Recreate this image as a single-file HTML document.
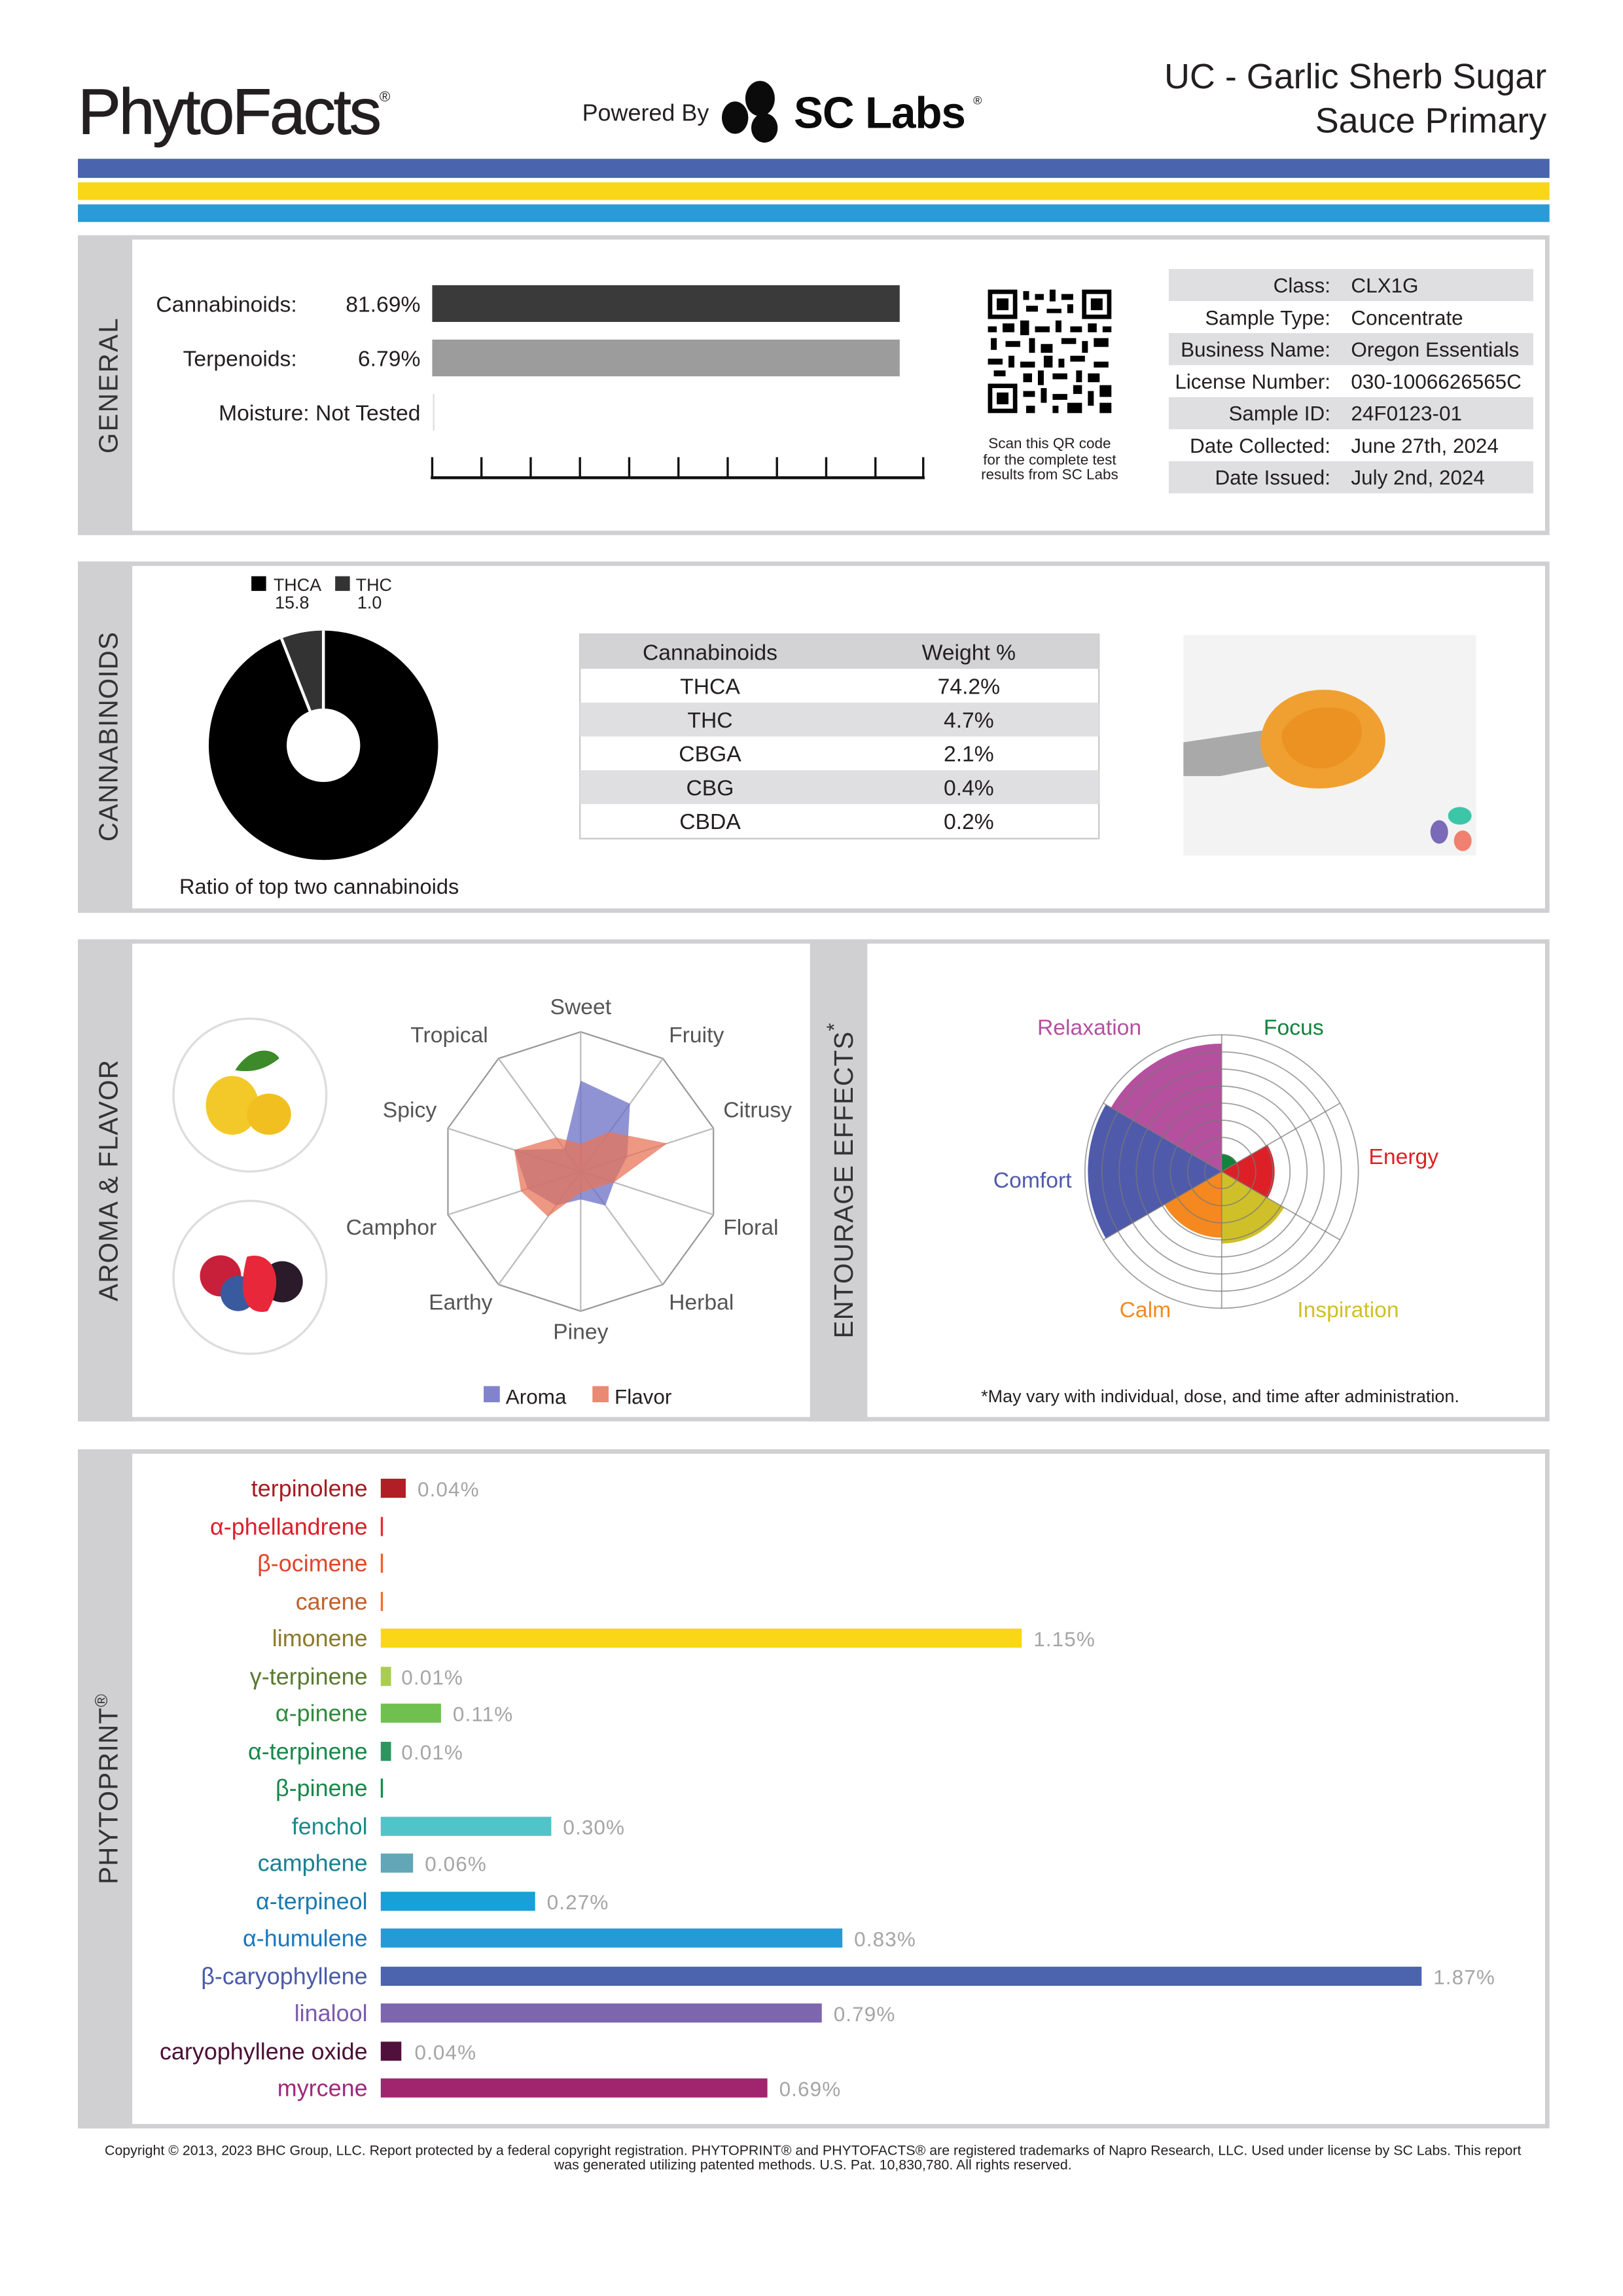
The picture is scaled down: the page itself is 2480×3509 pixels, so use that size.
<!DOCTYPE html>
<html><head><meta charset="utf-8"><style>
html,body{margin:0;padding:0;background:#fff}
svg{display:block}
text{font-family:"Liberation Sans",sans-serif}
</style></head><body>
<svg width="2480" height="3509" viewBox="0 0 1104 1562" xmlns="http://www.w3.org/2000/svg">
<rect width="1104" height="1562" fill="#fff"/>
<!-- Header -->
<text x="53" y="91" font-size="44" fill="#231f20" letter-spacing="-1.5" stroke="#231f20" stroke-width="0.4">PhytoFacts<tspan font-size="10" dy="-22" stroke-width="0">®</tspan></text>
<text x="396" y="82" font-size="16" fill="#231f20">Powered By</text>
<ellipse cx="517" cy="67" rx="10" ry="12" fill="#0b0b0b"/>
<ellipse cx="500" cy="80" rx="9" ry="11" fill="#0b0b0b"/>
<ellipse cx="520" cy="87" rx="9" ry="10" fill="#0b0b0b"/>
<text x="540" y="87" font-size="30" font-weight="bold" fill="#0b0b0b" letter-spacing="-0.5">SC Labs</text>
<text x="662" y="71" font-size="8" fill="#0b0b0b">®</text>
<text x="1052" y="60" font-size="24" fill="#231f20" text-anchor="end">UC - Garlic Sherb Sugar</text>
<text x="1052" y="90" font-size="24" fill="#231f20" text-anchor="end">Sauce Primary</text>
<rect x="53" y="108" width="1001" height="13" fill="#4a64ad"/>
<rect x="53" y="124" width="1001" height="12" fill="#f9d616"/>
<rect x="53" y="139" width="1001" height="12" fill="#2a9bd6"/>

<!-- GENERAL panel -->
<rect x="54.5" y="161.5" width="998" height="201" fill="#fff" stroke="#d0d0d2" stroke-width="3"/>
<rect x="53" y="160" width="37" height="204" fill="#d0d0d2"/>
<text transform="translate(80,262) rotate(-90)" font-size="18" fill="#333" text-anchor="middle" letter-spacing="1">GENERAL</text>
<text x="202" y="212" font-size="15" fill="#231f20" text-anchor="end">Cannabinoids:</text>
<text x="286" y="212" font-size="15" fill="#231f20" text-anchor="end">81.69%</text>
<rect x="294" y="194" width="318" height="25" fill="#3a3a3a"/>
<text x="202" y="249" font-size="15" fill="#231f20" text-anchor="end">Terpenoids:</text>
<text x="286" y="249" font-size="15" fill="#231f20" text-anchor="end">6.79%</text>
<rect x="294" y="231" width="318" height="25" fill="#9c9c9c"/>
<text x="286" y="286" font-size="15" fill="#231f20" text-anchor="end">Moisture:  Not Tested</text>
<line x1="295" y1="268" x2="295" y2="293" stroke="#ddd" stroke-width="1"/>
<g stroke="#111" stroke-width="1.5">
<line x1="293" y1="325" x2="629" y2="325" stroke-width="2"/>
<line x1="294" y1="311" x2="294" y2="325"/><line x1="327.5" y1="311" x2="327.5" y2="325"/><line x1="361" y1="311" x2="361" y2="325"/><line x1="394.5" y1="311" x2="394.5" y2="325"/><line x1="428" y1="311" x2="428" y2="325"/><line x1="461.5" y1="311" x2="461.5" y2="325"/><line x1="495" y1="311" x2="495" y2="325"/><line x1="528.5" y1="311" x2="528.5" y2="325"/><line x1="562" y1="311" x2="562" y2="325"/><line x1="595.5" y1="311" x2="595.5" y2="325"/><line x1="628" y1="311" x2="628" y2="325"/>
</g>
<!-- QR -->
<g fill="#000">
<rect x="672" y="197" width="84" height="84" fill="#fff"/>
<rect x="672" y="197" width="20" height="20"/><rect x="675" y="200" width="14" height="14" fill="#fff"/><rect x="678" y="203" width="8" height="8"/>
<rect x="736" y="197" width="20" height="20"/><rect x="739" y="200" width="14" height="14" fill="#fff"/><rect x="742" y="203" width="8" height="8"/>
<rect x="672" y="261" width="20" height="20"/><rect x="675" y="264" width="14" height="14" fill="#fff"/><rect x="678" y="267" width="8" height="8"/>
<rect x="696" y="198" width="4" height="6"/><rect x="704" y="200" width="6" height="4"/><rect x="714" y="197" width="4" height="8"/><rect x="722" y="200" width="8" height="4"/>
<rect x="698" y="208" width="8" height="4"/><rect x="712" y="210" width="10" height="3"/><rect x="726" y="207" width="4" height="6"/>
<rect x="672" y="222" width="6" height="4"/><rect x="682" y="220" width="8" height="6"/><rect x="694" y="218" width="6" height="10"/><rect x="704" y="222" width="10" height="4"/><rect x="718" y="218" width="4" height="8"/><rect x="728" y="222" width="8" height="4"/><rect x="740" y="220" width="6" height="6"/><rect x="750" y="222" width="6" height="4"/>
<rect x="674" y="230" width="4" height="8"/><rect x="684" y="232" width="10" height="4"/><rect x="700" y="230" width="4" height="10"/><rect x="708" y="234" width="8" height="6"/><rect x="722" y="230" width="10" height="4"/><rect x="736" y="232" width="4" height="8"/><rect x="744" y="230" width="10" height="6"/>
<rect x="672" y="244" width="10" height="4"/><rect x="686" y="242" width="4" height="8"/><rect x="694" y="246" width="10" height="4"/><rect x="710" y="242" width="6" height="8"/><rect x="720" y="244" width="4" height="6"/><rect x="728" y="242" width="10" height="4"/><rect x="744" y="246" width="10" height="4"/>
<rect x="676" y="252" width="8" height="4"/><rect x="696" y="254" width="6" height="6"/><rect x="706" y="252" width="4" height="10"/><rect x="716" y="254" width="10" height="4"/><rect x="732" y="252" width="4" height="8"/><rect x="740" y="254" width="8" height="6"/>
<rect x="696" y="266" width="8" height="4"/><rect x="708" y="264" width="4" height="10"/><rect x="716" y="268" width="10" height="4"/><rect x="730" y="262" width="6" height="6"/><rect x="740" y="266" width="4" height="10"/><rect x="748" y="262" width="8" height="8"/>
<rect x="698" y="276" width="6" height="5"/><rect x="716" y="276" width="4" height="5"/><rect x="726" y="274" width="10" height="7"/><rect x="748" y="274" width="8" height="7"/>
</g>
<text x="714" y="305" font-size="10" fill="#231f20" text-anchor="middle">Scan this QR code</text>
<text x="714" y="316" font-size="10" fill="#231f20" text-anchor="middle">for the complete test</text>
<text x="714" y="326" font-size="10" fill="#231f20" text-anchor="middle">results from SC Labs</text>
<!-- info table -->
<rect x="795" y="183" width="248" height="21.8" fill="#dfdfe1"/>
<rect x="795" y="226.6" width="248" height="21.8" fill="#dfdfe1"/>
<rect x="795" y="270.2" width="248" height="21.8" fill="#dfdfe1"/>
<rect x="795" y="313.8" width="248" height="21.8" fill="#dfdfe1"/>
<g font-size="14" fill="#231f20">
<text x="905" y="199" text-anchor="end">Class:</text><text x="919" y="199">CLX1G</text>
<text x="905" y="221" text-anchor="end">Sample Type:</text><text x="919" y="221">Concentrate</text>
<text x="905" y="242.5" text-anchor="end">Business Name:</text><text x="919" y="242.5">Oregon Essentials</text>
<text x="905" y="264.5" text-anchor="end">License Number:</text><text x="919" y="264.5">030-1006626565C</text>
<text x="905" y="286" text-anchor="end">Sample ID:</text><text x="919" y="286">24F0123-01</text>
<text x="905" y="308" text-anchor="end">Date Collected:</text><text x="919" y="308">June 27th, 2024</text>
<text x="905" y="329.5" text-anchor="end">Date Issued:</text><text x="919" y="329.5">July 2nd, 2024</text>
</g>

<!-- CANNABINOIDS panel -->
<rect x="54.5" y="383.5" width="998" height="236" fill="#fff" stroke="#d0d0d2" stroke-width="3"/>
<rect x="53" y="382" width="37" height="239" fill="#d0d0d2"/>
<text transform="translate(80,501) rotate(-90)" font-size="18" fill="#333" text-anchor="middle" letter-spacing="0.5">CANNABINOIDS</text>
<rect x="171" y="392" width="10" height="10" fill="#000"/>
<text x="186" y="402" font-size="12" fill="#231f20">THCA</text>
<text x="187" y="414" font-size="12" fill="#231f20">15.8</text>
<rect x="228" y="392" width="10" height="10" fill="#333"/>
<text x="242" y="402" font-size="12" fill="#231f20">THC</text>
<text x="243" y="414" font-size="12" fill="#231f20">1.0</text>
<circle cx="220" cy="507" r="78" fill="#000"/>
<path d="M220,507 L220,429 A78,78 0 0 0 191.5,434.4 Z" fill="#333"/>
<line x1="220" y1="507" x2="220" y2="429" stroke="#fff" stroke-width="2"/>
<line x1="220" y1="507" x2="191.5" y2="434.4" stroke="#fff" stroke-width="2"/>
<circle cx="220" cy="507" r="25" fill="#fff"/>
<text x="122" y="608" font-size="14.5" fill="#231f20">Ratio of top two cannabinoids</text>
<!-- table -->
<rect x="394.5" y="431.5" width="353" height="139" fill="#fff" stroke="#c8c8ca" stroke-width="1"/>
<rect x="394.5" y="431.5" width="353" height="23.5" fill="#d3d3d5"/>
<rect x="394.5" y="478" width="353" height="23" fill="#dfdfe1"/>
<rect x="394.5" y="524" width="353" height="23" fill="#dfdfe1"/>
<g font-size="15" fill="#231f20" text-anchor="middle">
<text x="483" y="449" font-weight="500">Cannabinoids</text><text x="659" y="449">Weight %</text>
<text x="483" y="472">THCA</text><text x="659" y="472">74.2%</text>
<text x="483" y="495">THC</text><text x="659" y="495">4.7%</text>
<text x="483" y="518">CBGA</text><text x="659" y="518">2.1%</text>
<text x="483" y="541">CBG</text><text x="659" y="541">0.4%</text>
<text x="483" y="564">CBDA</text><text x="659" y="564">0.2%</text>
</g>
<!-- photo -->
<rect x="805" y="432" width="199" height="150" fill="#f3f3f3"/>
<path d="M805,505 L865,496 L870,520 L830,528 L805,528 Z" fill="#a9a9a9"/>
<path d="M858,500 C862,478 885,466 910,470 C935,476 948,495 940,515 C930,535 900,540 880,534 C865,528 855,515 858,500 Z" fill="#f0a030"/>
<path d="M872,498 C880,482 905,476 922,486 C932,498 924,516 905,522 C888,526 870,514 872,498 Z" fill="#e8891a" opacity="0.6"/>
<ellipse cx="993" cy="555" rx="8" ry="6" fill="#3cc6a8"/>
<ellipse cx="979" cy="566" rx="6" ry="8" fill="#7a6ab8"/>
<ellipse cx="995" cy="572" rx="6" ry="7" fill="#f08070"/>

<!-- AROMA panel -->
<rect x="54.5" y="640.5" width="998" height="325" fill="#fff" stroke="#d0d0d2" stroke-width="3"/>
<rect x="53" y="639" width="37" height="328" fill="#d0d0d2"/>
<rect x="551" y="639" width="39" height="328" fill="#d0d0d2"/>
<text transform="translate(80,803) rotate(-90)" font-size="18" fill="#333" text-anchor="middle" letter-spacing="0.5">AROMA &amp; FLAVOR</text>
<text transform="translate(580,803) rotate(-90)" font-size="18" fill="#333" text-anchor="middle" letter-spacing="0.5">ENTOURAGE EFFECTS<tspan dy="-8" font-size="14">*</tspan></text>
<circle cx="170" cy="745" r="52" fill="#fff" stroke="#ddd" stroke-width="1.5"/>
<ellipse cx="158" cy="752" rx="18" ry="20" fill="#f3c92a"/>
<ellipse cx="183" cy="758" rx="15" ry="14" fill="#f1c020"/>
<path d="M160,728 C170,712 185,712 190,720 C180,728 170,730 160,728 Z" fill="#3d8a2a"/>
<circle cx="170" cy="869" r="52" fill="#fff" stroke="#ddd" stroke-width="1.5"/>
<circle cx="150" cy="868" r="14" fill="#c8203a"/>
<circle cx="192" cy="872" r="14" fill="#2a1a2a"/>
<circle cx="162" cy="880" r="12" fill="#3a5aa0"/>
<path d="M168,855 C185,850 195,870 182,892 C170,895 160,885 168,855 Z" fill="#e8283a"/>
<!-- radar -->
<g stroke="#bbb" stroke-width="1" fill="none">
<polygon points="395,702 450.9,720.1 485.3,767.6 485.3,826.4 450.9,873.9 395,892 339.1,873.9 304.7,826.4 304.7,767.6 339.1,720.1" stroke="#999"/>
<line x1="395" y1="797" x2="395" y2="702"/><line x1="395" y1="797" x2="450.9" y2="720.1"/><line x1="395" y1="797" x2="485.3" y2="767.6"/><line x1="395" y1="797" x2="485.3" y2="826.4"/><line x1="395" y1="797" x2="450.9" y2="873.9"/><line x1="395" y1="797" x2="395" y2="892"/><line x1="395" y1="797" x2="339.1" y2="873.9"/><line x1="395" y1="797" x2="304.7" y2="826.4"/><line x1="395" y1="797" x2="304.7" y2="767.6"/><line x1="395" y1="797" x2="339.1" y2="720.1"/>
</g>
<polygon points="395,735.2 428.5,750.9 426.6,786.7 417.6,804.4 411.8,820.1 395,816 378.2,820.1 358.9,808.7 349.8,782.3 383.8,781.6" fill="#6b6fc4" fill-opacity="0.75"/>
<polygon points="395,778 414.6,770.1 453.8,777.9 417.6,804.4 403.4,808.6 395,811.3 372.7,827.7 354.3,810.2 349.8,782.3 378.2,773.9" fill="#e8745a" fill-opacity="0.75"/>
<g font-size="15" fill="#555">
<text x="395" y="690" text-anchor="middle">Sweet</text>
<text x="455" y="709">Fruity</text>
<text x="492" y="760">Citrusy</text>
<text x="492" y="840">Floral</text>
<text x="455" y="891">Herbal</text>
<text x="395" y="911" text-anchor="middle">Piney</text>
<text x="335" y="891" text-anchor="end">Earthy</text>
<text x="297" y="840" text-anchor="end">Camphor</text>
<text x="297" y="760" text-anchor="end">Spicy</text>
<text x="332" y="709" text-anchor="end">Tropical</text>
</g>
<rect x="329" y="943" width="11" height="11" fill="#6b6fc4" fill-opacity="0.85"/>
<text x="344" y="955" font-size="14" fill="#231f20">Aroma</text>
<rect x="403" y="943" width="11" height="11" fill="#e8745a" fill-opacity="0.85"/>
<text x="418" y="955" font-size="14" fill="#231f20">Flavor</text>
<!-- entourage -->
<path d="M831,797 L831,785 A12,12 0 0 1 841.4,791 Z" fill="#11833b"/>
<path d="M831,797 L862.2,779 A36,36 0 0 1 862.2,815 Z" fill="#dd2027"/>
<path d="M831,797 L873.4,821.5 A49,49 0 0 1 831,846 Z" fill="#cfc02a"/>
<path d="M831,797 L831,842 A45,45 0 0 1 792,819.5 Z" fill="#f5891f"/>
<path d="M831,797 L752.2,842.5 A91,91 0 0 1 752.2,751.5 Z" fill="#4f5aaa"/>
<path d="M831,797 L755.7,753.5 A87,87 0 0 1 831,710 Z" fill="#b5509f"/>
<g stroke="#777" stroke-opacity="0.7" stroke-width="0.8" fill="none">
<circle cx="831" cy="797" r="11.6"/><circle cx="831" cy="797" r="23.2"/><circle cx="831" cy="797" r="34.9"/><circle cx="831" cy="797" r="46.5"/><circle cx="831" cy="797" r="58.1"/><circle cx="831" cy="797" r="69.7"/><circle cx="831" cy="797" r="81.4"/><circle cx="831" cy="797" r="93"/>
<line x1="831" y1="797" x2="831" y2="704"/><line x1="831" y1="797" x2="911.5" y2="750.5"/><line x1="831" y1="797" x2="911.5" y2="843.5"/><line x1="831" y1="797" x2="831" y2="890"/><line x1="831" y1="797" x2="750.5" y2="843.5"/><line x1="831" y1="797" x2="750.5" y2="750.5"/>
</g>
<g font-size="15">
<text x="741" y="704" text-anchor="middle" fill="#b5509f">Relaxation</text>
<text x="880" y="704" text-anchor="middle" fill="#11833b">Focus</text>
<text x="931" y="792" fill="#dd2027">Energy</text>
<text x="729" y="808" text-anchor="end" fill="#4f5aaa">Comfort</text>
<text x="779" y="896" text-anchor="middle" fill="#f5891f">Calm</text>
<text x="917" y="896" text-anchor="middle" fill="#cfc02a">Inspiration</text>
</g>
<text x="830" y="954" font-size="12" fill="#231f20" text-anchor="middle">*May vary with individual, dose, and time after administration.</text>

<!-- PHYTOPRINT panel -->
<rect x="54.5" y="987.5" width="998" height="459" fill="#fff" stroke="#d0d0d2" stroke-width="3"/>
<rect x="53" y="986" width="37" height="462" fill="#d0d0d2"/>
<text transform="translate(80,1217) rotate(-90)" font-size="18" fill="#333" text-anchor="middle" letter-spacing="0.5">PHYTOPRINT<tspan font-size="12" dy="-7">®</tspan></text>
<g font-size="16" text-anchor="end">
<text x="250" y="1018" fill="#a51c23">terpinolene</text>
<text x="250" y="1044" fill="#d9202a">α-phellandrene</text>
<text x="250" y="1069" fill="#e0452a">β-ocimene</text>
<text x="250" y="1095" fill="#c0602a">carene</text>
<text x="250" y="1120" fill="#8a7a2a">limonene</text>
<text x="250" y="1146" fill="#5a7a30">γ-terpinene</text>
<text x="250" y="1171" fill="#2e8a3a">α-pinene</text>
<text x="250" y="1197" fill="#17884a">α-terpinene</text>
<text x="250" y="1222" fill="#17884a">β-pinene</text>
<text x="250" y="1248" fill="#1a8a8a">fenchol</text>
<text x="250" y="1273" fill="#1a8090">camphene</text>
<text x="250" y="1299" fill="#1a7ab0">α-terpineol</text>
<text x="250" y="1324" fill="#1a78bb">α-humulene</text>
<text x="250" y="1350" fill="#4a5aa8">β-caryophyllene</text>
<text x="250" y="1375" fill="#7a5aad">linalool</text>
<text x="250" y="1401" fill="#4a1035">caryophyllene oxide</text>
<text x="250" y="1426" fill="#a0287a">myrcene</text>
</g>
<rect x="259" y="1006" width="17" height="13" fill="#b01f25"/>
<rect x="259" y="1032" width="1.5" height="13" fill="#e03030"/>
<rect x="259" y="1057" width="1.5" height="13" fill="#f0602a"/>
<rect x="259" y="1083" width="1.5" height="13" fill="#f07030"/>
<rect x="259" y="1108" width="436" height="13" fill="#f9d616"/>
<rect x="259" y="1134" width="7" height="13" fill="#a8cd50"/>
<rect x="259" y="1159" width="41" height="13" fill="#70c050"/>
<rect x="259" y="1185" width="7" height="13" fill="#2e9560"/>
<rect x="259" y="1210" width="1.5" height="13" fill="#1a8a4a"/>
<rect x="259" y="1236" width="116" height="13" fill="#50c4c8"/>
<rect x="259" y="1261" width="22" height="13" fill="#62a6b8"/>
<rect x="259" y="1287" width="105" height="13" fill="#18a0d8"/>
<rect x="259" y="1312" width="314" height="13" fill="#249bd6"/>
<rect x="259" y="1338" width="708" height="13" fill="#4c63ad"/>
<rect x="259" y="1363" width="300" height="13" fill="#7e66ae"/>
<rect x="259" y="1389" width="14" height="13" fill="#50103c"/>
<rect x="259" y="1414" width="263" height="13" fill="#a0246e"/>
<g font-size="14" fill="#a5a5a5" letter-spacing="0.5">
<text x="284" y="1018">0.04%</text>
<text x="703" y="1120">1.15%</text>
<text x="273" y="1146">0.01%</text>
<text x="308" y="1171">0.11%</text>
<text x="273" y="1197">0.01%</text>
<text x="383" y="1248">0.30%</text>
<text x="289" y="1273">0.06%</text>
<text x="372" y="1299">0.27%</text>
<text x="581" y="1324">0.83%</text>
<text x="975" y="1350">1.87%</text>
<text x="567" y="1375">0.79%</text>
<text x="282" y="1401">0.04%</text>
<text x="530" y="1426">0.69%</text>
</g>
<!-- footer -->
<text x="553" y="1466" font-size="9.5" fill="#231f20" text-anchor="middle">Copyright © 2013, 2023 BHC Group, LLC. Report protected by a federal copyright registration. PHYTOPRINT® and PHYTOFACTS® are registered trademarks of Napro Research, LLC. Used under license by SC Labs. This report</text>
<text x="553" y="1476" font-size="9.5" fill="#231f20" text-anchor="middle">was generated utilizing patented methods. U.S. Pat. 10,830,780. All rights reserved.</text>
</svg>
</body></html>
